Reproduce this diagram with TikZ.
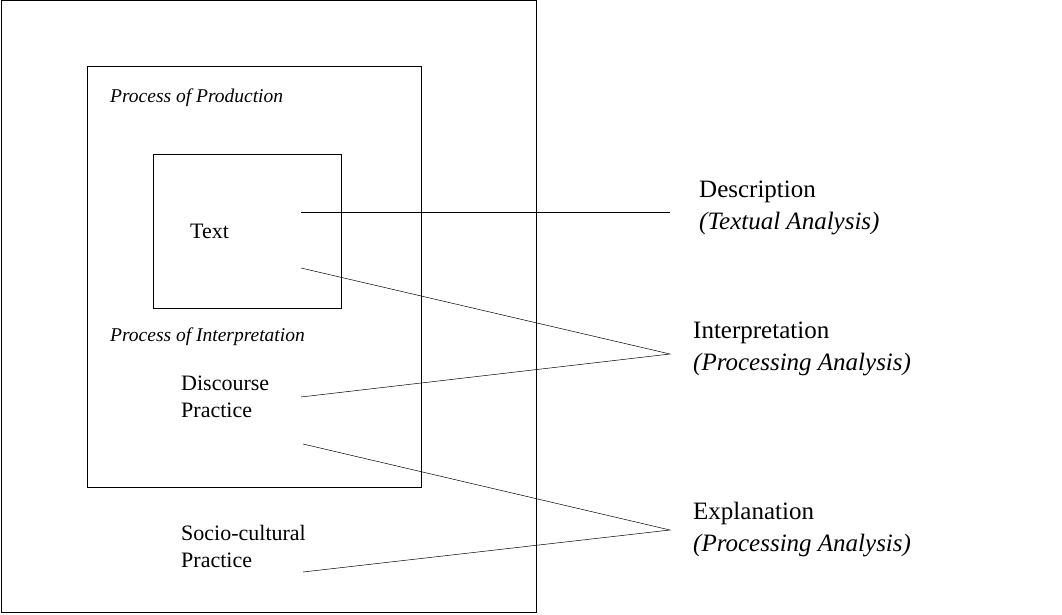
\documentclass[tikz,border=0pt]{standalone}
\usepackage{fontspec}
\setmainfont{Liberation Serif}
\begin{document}
\begin{tikzpicture}[x=1pt,y=-1pt,
  box/.style={draw,line width=1pt},
  lab/.style={anchor=west,inner sep=0pt,font=\fontsize{22}{27}\selectfont,align=left},
  big/.style={anchor=west,inner sep=0pt,font=\fontsize{25}{32}\selectfont,align=left},
  sm/.style={anchor=west,inner sep=0pt,font=\fontsize{19.5}{22}\selectfont\itshape},
  con/.style={draw,line width=0.5pt}]
\useasboundingbox (0,0) rectangle (1062,615);
\draw[box] (1,1) rectangle (536,612);
\draw[box] (87,67) rectangle (421,487);
\draw[box] (153,154) rectangle (341,308);
\node[sm] (pp) at (110,98) {Process of Production};
\node[lab] (txt) at (190,231) {Text};
\node[sm] (pi) at (110,337) {Process of Interpretation};
\node[lab] (dp) at (181,397) {Discourse\\Practice};
\node[lab] (sc) at (181,546) {Socio-cultural\\Practice};
\node[big] (de) at (699,208) {Description\\\itshape(Textual Analysis)};
\node[big] (in) at (693,349) {Interpretation\\\itshape(Processing Analysis)};
\node[big] (ex) at (693,530) {Explanation\\\itshape(Processing Analysis)};
\coordinate (a1) at (301,212); \coordinate (a2) at (670,212);
\coordinate (b1) at (301,268); \coordinate (b2) at (301,397); \coordinate (b) at (670,354);
\coordinate (c1) at (303,444); \coordinate (c2) at (303,572); \coordinate (c) at (670,530);
\draw[con] (a1) -- (a2);
\draw[con] (b1) -- (b) -- (b2);
\draw[con] (c1) -- (c) -- (c2);
\end{tikzpicture}
\end{document}
